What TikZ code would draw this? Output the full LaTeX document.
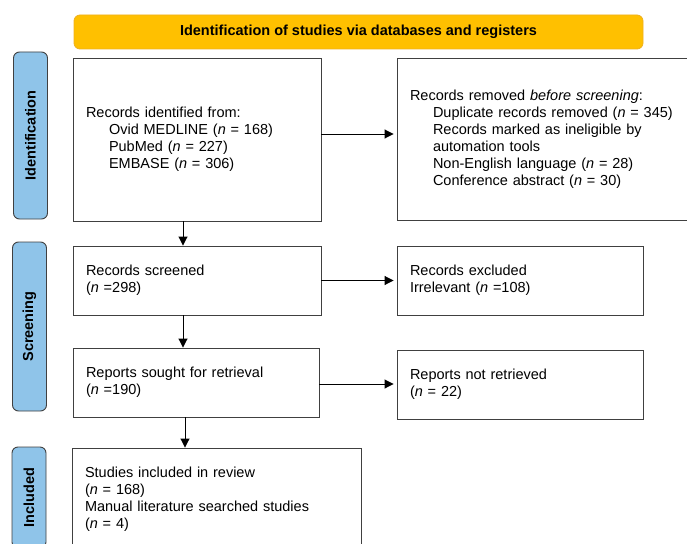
\documentclass[tikz,border=0pt]{standalone}
\usepackage{fontspec}
\setmainfont{Liberation Sans}
\usetikzlibrary{positioning, arrows.meta}

\definecolor{bannerorange}{RGB}{255,192,0}
\definecolor{bannerline}{RGB}{238,176,30}
\definecolor{stageblue}{RGB}{143,196,233}
\definecolor{boxline}{RGB}{64,64,64}

\newcommand{\recindent}{\hspace*{23pt}}

\begin{document}
\begin{tikzpicture}[x=1pt, y=-1pt, font=\fontsize{14.5}{17}\selectfont]
    % Styles
    \tikzstyle{banner} = [draw=bannerline, fill=bannerorange, rounded corners=6pt, line width=0.8pt, font=\fontsize{14.5}{17}\selectfont\bfseries, minimum width=569pt, minimum height=34pt]
    \tikzstyle{stage} = [draw=boxline, fill=stageblue, rounded corners=6pt, line width=0.9pt, rotate=90, font=\fontsize{14.5}{17}\selectfont\bfseries, minimum height=34pt, inner sep=0pt]
    \tikzstyle{record} = [draw=boxline, line width=0.9pt, align=left, inner xsep=13pt, inner ysep=0pt]
    \tikzstyle{edge} = [-{Triangle[length=9pt, width=9pt]}, line width=0.9pt]
    \tikzstyle{side edge} = [edge, shorten >=3pt]

    \useasboundingbox (0,0) rectangle (687,543);

    % Nodes
    \node[banner] (title) at (358.5, 32) {Identification of studies via databases and registers};

    \node[stage, minimum width=167pt] (identstage) at (30.5, 135.5) {Identification};
    \node[stage, minimum width=169pt] (screenstage) at (29.5, 326.5) {Screening};
    \node[stage, minimum width=101pt] (inclstage) at (29, 497.5) {Included};

    \node[record, text width=222pt, minimum height=163pt] (identified) at (197, 139.5)
        {Records identified from:\\
         \recindent Ovid MEDLINE (\textit{n} = 168)\\
         \recindent PubMed (\textit{n} = 227)\\
         \recindent EMBASE (\textit{n} = 306)};
    \node[record, text width=277pt, minimum height=162pt] (removed) at (548.5, 139)
        {Records removed \textit{before screening}:\\
         \recindent Duplicate records removed (\textit{n} = 345)\\
         \recindent Records marked as ineligible by\\
         \recindent automation tools\\
         \recindent Non-English language (\textit{n} = 28)\\
         \recindent Conference abstract (\textit{n} = 30)};
    \node[record, text width=222pt, minimum height=69pt] (screened) at (197, 280.5)
        {Records screened\\(\textit{n} =298)};
    \node[record, text width=220pt, minimum height=69pt] (excluded) at (520, 280.5)
        {Records excluded\\Irrelevant (\textit{n} =108)};
    \node[record, text width=220pt, minimum height=69pt] (sought) at (196, 382.5)
        {Reports sought for retrieval\\(\textit{n} =190)};
    \node[record, text width=220pt, minimum height=69pt] (notretrieved) at (520, 384.5)
        {Reports not retrieved\\(\textit{n} = 22)};
    \node[record, text width=263pt, minimum height=103pt] (included) at (216.5, 499.5)
        {Studies included in review\\(\textit{n} = 168)\\
         Manual literature searched studies\\(\textit{n} = 4)};

    % Edges
    \draw[side edge] ([yshift=5.5pt]identified.east) -- ([yshift=5.5pt]identified.east -| removed.west);
    \draw[side edge] (screened) -- (excluded);
    \draw[side edge] ([yshift=-1.5pt]sought.east) -- ([yshift=-1.5pt]sought.east -| notretrieved.west);
    \draw[edge] ([xshift=-14pt]identified.south) -- ([xshift=-14pt]identified.south |- screened.north);
    \draw[edge] ([xshift=-14pt]screened.south) -- ([xshift=-14pt]screened.south |- sought.north);
    \draw[edge] ([xshift=-11pt]sought.south) -- ([xshift=-11pt]sought.south |- included.north);
\end{tikzpicture}
\end{document}
